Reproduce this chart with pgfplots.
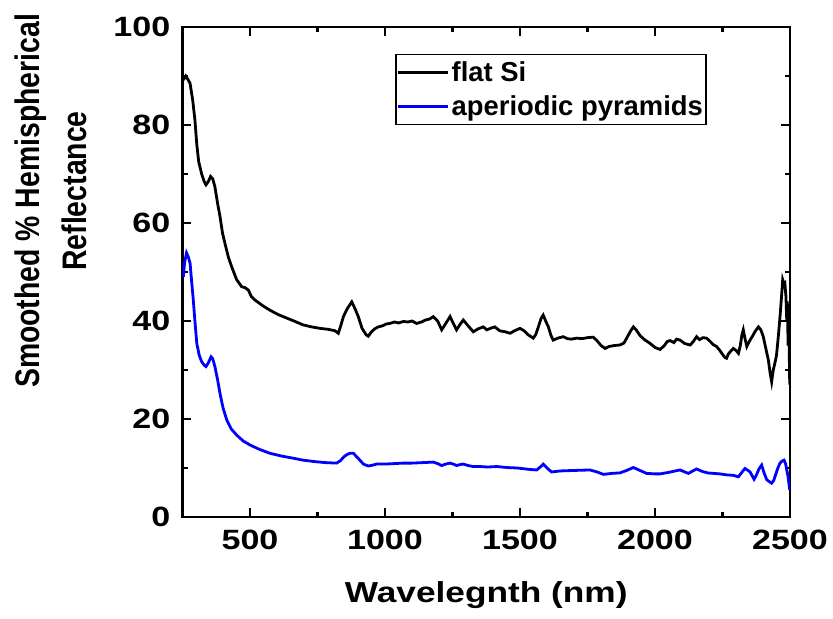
\documentclass[border=0pt]{standalone}
\usepackage{fontspec}
\setmainfont{Liberation Sans}
\usepackage{pgfplots}
\pgfplotsset{compat=1.18}
\begin{document}
\begin{tikzpicture}
\useasboundingbox (-182.5bp,-102bp) rectangle (650.5bp,517bp);
\begin{axis}[
  at={(0,0)}, anchor=south west,
  scale only axis, width=607.5bp, height=490bp,
  xmin=250, xmax=2500, ymin=0, ymax=100,
  xtick={500,1000,1500,2000,2500},
  minor xtick={250,750,1250,1750,2250},
  ytick={0,20,40,60,80,100},
  minor ytick={10,30,50,70,90},
  tick align=inside,
  major tick length=9bp, minor tick length=5.5bp,
  every tick/.style={black, line width=2.2bp},
  axis line style={line width=2.7bp},
  /pgf/number format/assume math mode=true,
  /pgf/number format/1000 sep={},
  ticklabel style={font=\fontsize{28}{30}\selectfont\bfseries},
  xticklabel style={inner sep=0pt, anchor=north, yshift=-13bp, xscale=1.22},
  yticklabel style={inner sep=0pt, anchor=east, xshift=-12bp, xscale=1.22},
  xlabel={Wavelegnth (nm)},
  xlabel style={font=\fontsize{29}{32}\selectfont\bfseries, at={(axis description cs:0.5,-0.1735)}, anchor=base, inner sep=0pt, xscale=1.22},
  ylabel={Smoothed \% Hemispherical\\\hspace*{20bp}Reflectance},
  ylabel style={font=\fontsize{28.5}{39}\selectfont\bfseries, align=center, at={(axis description cs:-0.217,0.645)}, anchor=center, inner sep=0pt, yscale=1.2},
  legend style={at={(axis description cs:0.35,0.945)}, anchor=north west, draw=black, line width=1.5bp,
    font=\fontsize{27.5}{30}\selectfont\bfseries, inner xsep=1bp, inner ysep=5bp, row sep=9bp,
    cells={anchor=west}},
  legend cell align=left,
  legend image code/.code={\draw[#1, line width=2.8bp] (0bp,0bp) -- (50bp,0bp);},
]
\addplot[black, line width=2.8bp] coordinates {
(253,89.2) (262,90.0) (268,89.5) (278,88.5) (288,85) (296,81) (303,76) (310,72.5)
(321,70) (330,68.5) (337,67.8) (346,68.5) (354,69.5) (362,69) (370,67.4) (380,64)
(389,61.3) (398,58) (407,55.9) (420,53) (432,51.1) (450,48.5) (469,47) (482,46.8)
(494,46.3) (505,45) (518,44.3) (545,43.2) (574,42.2) (605,41.3) (636,40.6) (667,39.9)
(697,39.2) (728,38.8) (759,38.5) (790,38.3) (815,38.0) (827,37.5) (836,39) (846,40.9)
(860,42.5) (877,43.9) (889,42.5) (901,40.9) (915,38.5) (930,37.2) (938,36.9) (950,37.8)
(962,38.4) (975,38.8) (990,39.0) (1005,39.4) (1018,39.5) (1035,39.8) (1050,39.6) (1068,39.9)
(1085,39.8) (1100,40.0) (1117,39.5) (1135,39.8) (1150,40.2) (1165,40.4) (1179,40.9) (1195,40.0)
(1210,38.2) (1225,39.5) (1241,40.9) (1253,39.5) (1265,38.2) (1278,39.3) (1290,40.2) (1308,39.0)
(1327,37.8) (1345,38.4) (1364,38.8) (1377,38.2) (1395,38.6) (1407,38.8) (1425,38.0) (1445,37.8)
(1463,37.5) (1480,38.0) (1500,38.5) (1515,38.0) (1530,37.2) (1549,36.5) (1558,37.2) (1568,38.8)
(1578,40.5) (1586,41.2) (1595,40.0) (1605,38.8) (1615,37.0) (1623,36.1) (1640,36.5) (1660,36.8)
(1675,36.4) (1691,36.3) (1710,36.5) (1730,36.4) (1750,36.6) (1771,36.7) (1785,36.0) (1800,35.0)
(1815,34.4) (1830,34.8) (1850,35.0) (1870,35.1) (1885,35.5) (1900,37.0) (1910,38.0) (1920,38.8)
(1930,38.2) (1945,37.0) (1963,36.1) (1980,35.5) (2000,34.6) (2019,34.2) (2035,35.0) (2045,35.8)
(2056,36.0) (2070,35.6) (2080,36.3) (2093,36.1) (2110,35.4) (2130,35.1) (2142,35.8) (2154,36.8)
(2165,36.2) (2178,36.6) (2191,36.5) (2205,35.8) (2215,35.2) (2228,34.8) (2240,34.0) (2250,33.2)
(2258,32.6) (2265,32.4) (2272,33.3) (2280,33.8) (2290,34.4) (2300,34.0) (2309,33.4) (2316,35.0)
(2322,37.2) (2327,38.2) (2333,36.5) (2340,34.8) (2346,35.5) (2352,36.1) (2360,36.8) (2370,37.8)
(2383,38.8) (2392,38.2) (2401,36.8) (2410,34.5) (2420,32.0) (2426,29.5) (2432,27.6) (2438,30.0)
(2444,31.4) (2450,33.0) (2457,37.0) (2463,40.9) (2468,44.5) (2473,48.4) (2478,47.5) (2481,47.7)
(2485,45) (2488,40) (2490,44) (2493,35) (2496,38) (2499,27)
};
\addlegendentry{flat Si}
\addplot[blue, line width=2.8bp] coordinates {
(253,49) (258,52) (265,53.9) (272,53) (278,51.8) (284,48) (290,44.3) (296,40)
(303,35.4) (312,33) (321,31.7) (330,31) (337,30.7) (346,31.5) (356,32.7) (362,32.3)
(370,30.7) (380,28) (389,25.2) (400,22.3) (414,19.8) (430,18) (451,16.7) (475,15.5)
(500,14.7) (535,13.8) (574,13.0) (620,12.4) (660,12.0) (697,11.6) (740,11.3) (780,11.1)
(821,11.0) (835,11.5) (848,12.3) (858,12.7) (870,13.0) (883,13.0) (895,12.3) (907,11.6)
(920,10.8) (938,10.4) (955,10.6) (969,10.8) (1000,10.8) (1035,10.9) (1068,11.0) (1100,11.0)
(1140,11.1) (1179,11.2) (1195,10.9) (1210,10.5) (1225,10.8) (1241,11.0) (1253,10.8) (1265,10.5)
(1278,10.7) (1290,10.8) (1308,10.5) (1327,10.3) (1352,10.3) (1380,10.2) (1414,10.3) (1450,10.1)
(1490,10.0) (1537,9.7) (1562,9.6) (1575,10.2) (1586,10.8) (1600,10.0) (1617,9.2) (1650,9.4)
(1700,9.5) (1759,9.6) (1785,9.2) (1809,8.7) (1840,8.9) (1870,9.0) (1895,9.5) (1920,10.1)
(1940,9.6) (1969,8.9) (2000,8.8) (2019,8.8) (2050,9.1) (2075,9.4) (2093,9.6) (2110,9.2)
(2124,8.9) (2140,9.4) (2154,9.8) (2175,9.3) (2195,9.0) (2216,8.9) (2240,8.8) (2265,8.6)
(2290,8.5) (2309,8.2) (2320,9.0) (2333,9.9) (2342,9.6) (2352,9.2) (2360,8.4) (2367,7.7)
(2375,8.5) (2385,9.8) (2395,10.6) (2404,9.0) (2414,7.6) (2424,7.2) (2432,6.9) (2440,7.5)
(2446,8.5) (2455,10.0) (2463,11.0) (2470,11.4) (2478,11.6) (2484,10.8) (2488,9.6) (2492,8.5)
(2496,6.8) (2499,5.5)
};
\addlegendentry{aperiodic pyramids}
\end{axis}
\end{tikzpicture}
\end{document}
